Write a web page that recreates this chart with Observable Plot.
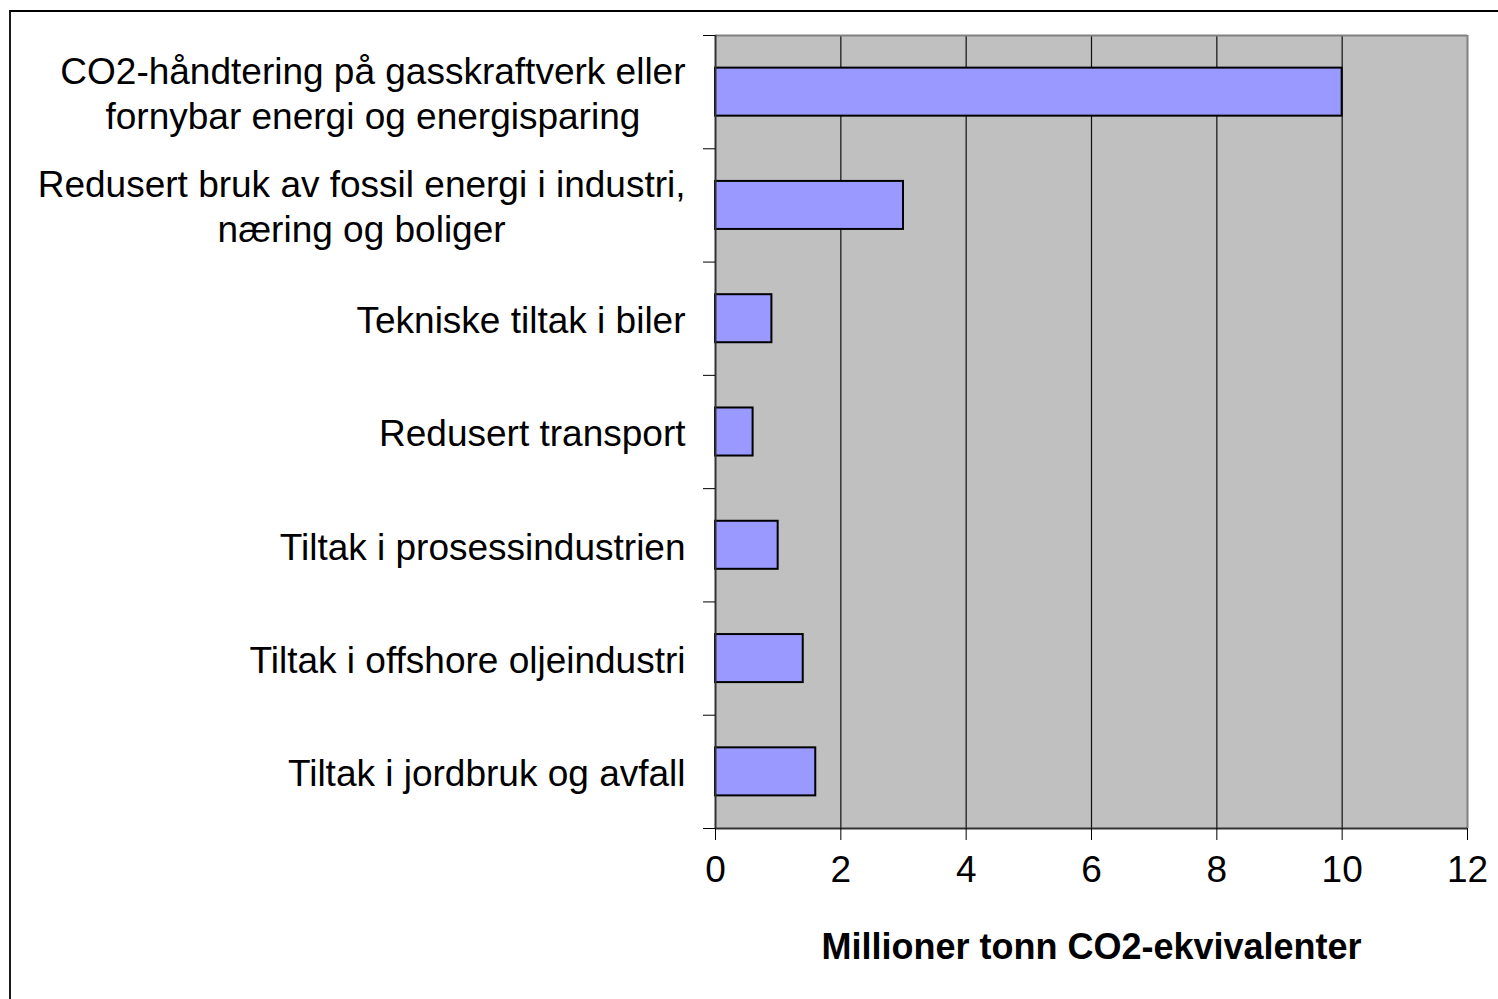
<!DOCTYPE html>
<html>
<head>
<meta charset="utf-8">
<script src="https://cdn.jsdelivr.net/npm/d3@7"></script>
<script src="https://cdn.jsdelivr.net/npm/@observablehq/plot@0.6"></script>
<style>
  html, body { margin: 0; padding: 0; background: #fff; overflow: hidden; }
  #wrap { position: relative; width: 1498px; height: 999px; }
  #border { position: absolute; left: 9px; top: 10px; width: 1600px; height: 1100px;
            border-left: 2px solid #1a1a1a; border-top: 2px solid #000; box-sizing: border-box; }
  #chart { position: absolute; left: 0; top: 0; }
</style>
</head>
<body>
<div id="wrap"><div id="border"></div><div id="chart"></div></div>
<script>
const categories = [
  "CO2-håndtering på gasskraftverk eller\nfornybar energi og energisparing",
  "Redusert bruk av fossil energi i industri,\nnæring og boliger",
  "Tekniske tiltak i biler",
  "Redusert transport",
  "Tiltak i prosessindustrien",
  "Tiltak i offshore oljeindustri",
  "Tiltak i jordbruk og avfall"
];
const values = [10, 3, 0.9, 0.6, 1.0, 1.4, 1.6];
const xTicks = [0, 2, 4, 6, 8, 10, 12];
const axisTitle = "Millioner tonn CO2-ekvivalenter";

const FONT = "'Liberation Sans', Arial, sans-serif";
const LABEL_SIZE = 37;
const data = categories.map((label, i) => ({label, value: values[i], i}));
const boundaries = d3.range(categories.length + 1).map(k => k - 0.5);
const half = 0.212; // half bar thickness in band units

// measure label widths to center wrapped lines within their block
const ctx = document.createElement("canvas").getContext("2d");
ctx.font = `${LABEL_SIZE}px 'Liberation Sans'`;
const gap = 30;
const labelMarks = data.map(d => {
  const w = d3.max(d.label.split("\n"), s => ctx.measureText(s).width);
  return Plot.text([d], {
    y: "i", text: "label", frameAnchor: "left",
    textAnchor: "middle", dx: -gap - w / 2,
    lineAnchor: "middle", lineHeight: 1.2,
    fontSize: LABEL_SIZE, fill: "#000"
  });
});

const chart = Plot.plot({
  width: 1498, height: 999,
  marginLeft: 715, marginRight: 31, marginTop: 35, marginBottom: 171,
  style: {fontFamily: FONT, fontSize: "37px", background: "transparent", color: "#000"},
  x: {domain: [0, 12]},
  y: {domain: [-0.5, categories.length - 0.5], reverse: true},
  marks: [
    Plot.frame({fill: "#C0C0C0", stroke: null}),
    Plot.gridX(xTicks.slice(1, -1), {stroke: "#111", strokeOpacity: 1, strokeWidth: 1.2}),
    Plot.ruleY([-0.5], {stroke: "#808080", strokeWidth: 2}),
    Plot.ruleX([12], {stroke: "#808080", strokeWidth: 2}),
    Plot.rectX(data, {x1: 0, x2: "value", y1: d => d.i - half, y2: d => d.i + half,
      fill: "#9999FF", stroke: "#000", strokeWidth: 2}),
    Plot.ruleX([0], {stroke: "#333", strokeWidth: 2}),
    Plot.ruleY([categories.length - 0.5], {stroke: "#333", strokeWidth: 2}),
    Plot.axisX({ticks: xTicks, tickSize: 12, tickPadding: 15, tickFormat: d => String(d),
      fontSize: 37, label: null, stroke: "#000"}),
    Plot.axisY({ticks: boundaries, tickSize: 12, tickFormat: () => "", label: null, stroke: "#000"}),
    ...labelMarks,
    Plot.text([axisTitle], {text: d => d, frameAnchor: "bottom", lineAnchor: "top", dy: 105,
      fontWeight: "bold", fontSize: 36, fill: "#000"})
  ]
});
document.getElementById("chart").appendChild(chart);
</script>
</body>
</html>
